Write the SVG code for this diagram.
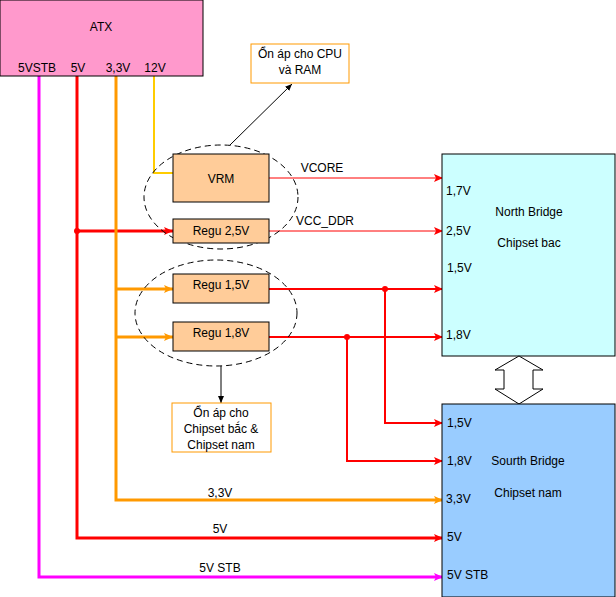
<svg xmlns="http://www.w3.org/2000/svg" width="616" height="597" viewBox="0 0 616 597">
<style>
text{font-family:"Liberation Sans",Arial,sans-serif;font-size:12px;fill:#000}
.box{stroke:#000;stroke-width:1}
.reg{fill:#FFCC99}
.note{fill:#fff;stroke:#FF9900;stroke-width:1}
.ell{fill:none;stroke:#000;stroke-width:1;stroke-dasharray:6,4}
.mid{text-anchor:middle}
.r1{stroke:#FF0000;stroke-width:1;fill:none}
.r2{stroke:#FF0000;stroke-width:2;fill:none}
.r3{stroke:#FF0000;stroke-width:3;fill:none}
.o3{stroke:#FF9900;stroke-width:3;fill:none}
.y2{stroke:#FFCC00;stroke-width:2;fill:none}
.m3{stroke:#FF00FF;stroke-width:3;fill:none}
.k1{stroke:#000;stroke-width:1;fill:none}
</style>
<defs>
<marker id="ar" markerUnits="userSpaceOnUse" markerWidth="10" markerHeight="10" refX="9" refY="5" orient="auto"><path d="M0,1 L9,5 L0,9 L2,5 Z" fill="#FF0000"/></marker>
<marker id="ao" markerUnits="userSpaceOnUse" markerWidth="10" markerHeight="10" refX="9" refY="5" orient="auto"><path d="M0,1 L9,5 L0,9 L2,5 Z" fill="#FF9900"/></marker>
<marker id="am" markerUnits="userSpaceOnUse" markerWidth="10" markerHeight="10" refX="9" refY="5" orient="auto"><path d="M0,1 L9,5 L0,9 L2,5 Z" fill="#FF00FF"/></marker>
<marker id="ak" markerUnits="userSpaceOnUse" markerWidth="8" markerHeight="8" refX="7" refY="4" orient="auto"><path d="M0,1 L7,4 L0,7 Z" fill="#000"/></marker>
</defs>

<g id="connectors">
<path class="m3" d="M39,76 V577 H443" marker-end="url(#am)"/>
<path class="r3" d="M77,76 V538 H443" marker-end="url(#ar)"/>
<path class="r3" d="M77,231 H173" marker-end="url(#ar)"/>
<circle cx="77" cy="231" r="3" fill="#FF0000"/>
<path class="o3" d="M116,76 V500 H443" marker-end="url(#ao)"/>
<path class="o3" d="M116,289 H173" marker-end="url(#ao)"/>
<path class="o3" d="M116,337 H173" marker-end="url(#ao)"/>
<path class="y2" d="M154,76 V173 H173"/>
<path class="r1" d="M269,178 H443" marker-end="url(#ar)"/>
<path class="r1" d="M269,231 H443" marker-end="url(#ar)"/>
<path class="r2" d="M269,289 H443" marker-end="url(#ar)"/>
<path class="r2" d="M269,337 H443" marker-end="url(#ar)"/>
<path class="r2" d="M385,289 V423 H443" marker-end="url(#ar)"/>
<path class="r2" d="M347,337 V461 H443" marker-end="url(#ar)"/>
<circle cx="385" cy="289" r="3" fill="#FF0000"/>
<circle cx="347" cy="337" r="3" fill="#FF0000"/>
<path class="k1" d="M230,145 L292,84" marker-end="url(#ak)"/>
<path class="k1" d="M221,366 V403" marker-end="url(#ak)"/>
<text x="322" y="172" class="mid">VCORE</text>
<text x="325" y="225" class="mid">VCC_DDR</text>
<text x="220" y="497" class="mid">3,3V</text>
<text x="220" y="533" class="mid">5V</text>
<text x="220" y="572" class="mid">5V STB</text>
</g>

<g id="atx">
<rect x="0" y="0" width="203" height="76" fill="#FF99CC" class="box"/>
<text x="101" y="31" class="mid">ATX</text>
<text x="37" y="72" class="mid">5VSTB</text>
<text x="78" y="72" class="mid">5V</text>
<text x="118" y="72" class="mid">3,3V</text>
<text x="155" y="72" class="mid">12V</text>
</g>

<g id="note-cpu">
<rect x="251" y="44" width="98" height="39" class="note"/>
<text x="300" y="58" class="mid">Ổn áp cho CPU</text>
<text x="300" y="74" class="mid">và RAM</text>
</g>

<g id="ellipse1"><ellipse cx="221" cy="197" rx="77" ry="52" class="ell"/></g>
<g id="vrm">
<rect x="173" y="154" width="96" height="48" class="reg box"/>
<text x="221" y="183" class="mid">VRM</text>
</g>
<g id="regu25">
<rect x="173" y="219" width="96" height="24" class="reg box"/>
<text x="221" y="235" class="mid">Regu 2,5V</text>
</g>

<g id="ellipse2"><ellipse cx="216" cy="313" rx="81" ry="53" class="ell"/></g>
<g id="regu15">
<rect x="173" y="274" width="96" height="29" class="reg box"/>
<text x="221" y="289" class="mid">Regu 1,5V</text>
</g>
<g id="regu18">
<rect x="173" y="322" width="96" height="29" class="reg box"/>
<text x="221" y="337" class="mid">Regu 1,8V</text>
</g>

<g id="note-chipset">
<rect x="172" y="403" width="99" height="49" class="note"/>
<text x="221" y="417" class="mid">Ổn áp cho</text>
<text x="221" y="433" class="mid">Chipset bắc &amp;</text>
<text x="221" y="449" class="mid">Chipset nam</text>
</g>

<g id="north-bridge">
<rect x="442" y="154" width="173" height="202" fill="#CCFFFF" class="box"/>
<text x="529" y="216" class="mid">North Bridge</text>
<text x="529" y="247" class="mid">Chipset bac</text>
<text x="446" y="195">1,7V</text>
<text x="446" y="235">2,5V</text>
<text x="447" y="272">1,5V</text>
<text x="446" y="339">1,8V</text>
</g>

<g id="bus">
<path d="M519,356 L543,370 L533,370 L533,389 L543,389 L519,404 L495,389 L504,389 L504,370 L495,370 Z" fill="#fff" stroke="#000" stroke-width="1"/>
</g>

<g id="south-bridge">
<rect x="442" y="404" width="173" height="193" fill="#99CCFF" class="box"/>
<text x="528" y="465" class="mid">Sourth Bridge</text>
<text x="528" y="497" class="mid">Chipset nam</text>
<text x="447" y="427">1,5V</text>
<text x="447" y="465">1,8V</text>
<text x="446" y="503">3,3V</text>
<text x="447" y="541">5V</text>
<text x="447" y="579">5V STB</text>
</g>
</svg>
